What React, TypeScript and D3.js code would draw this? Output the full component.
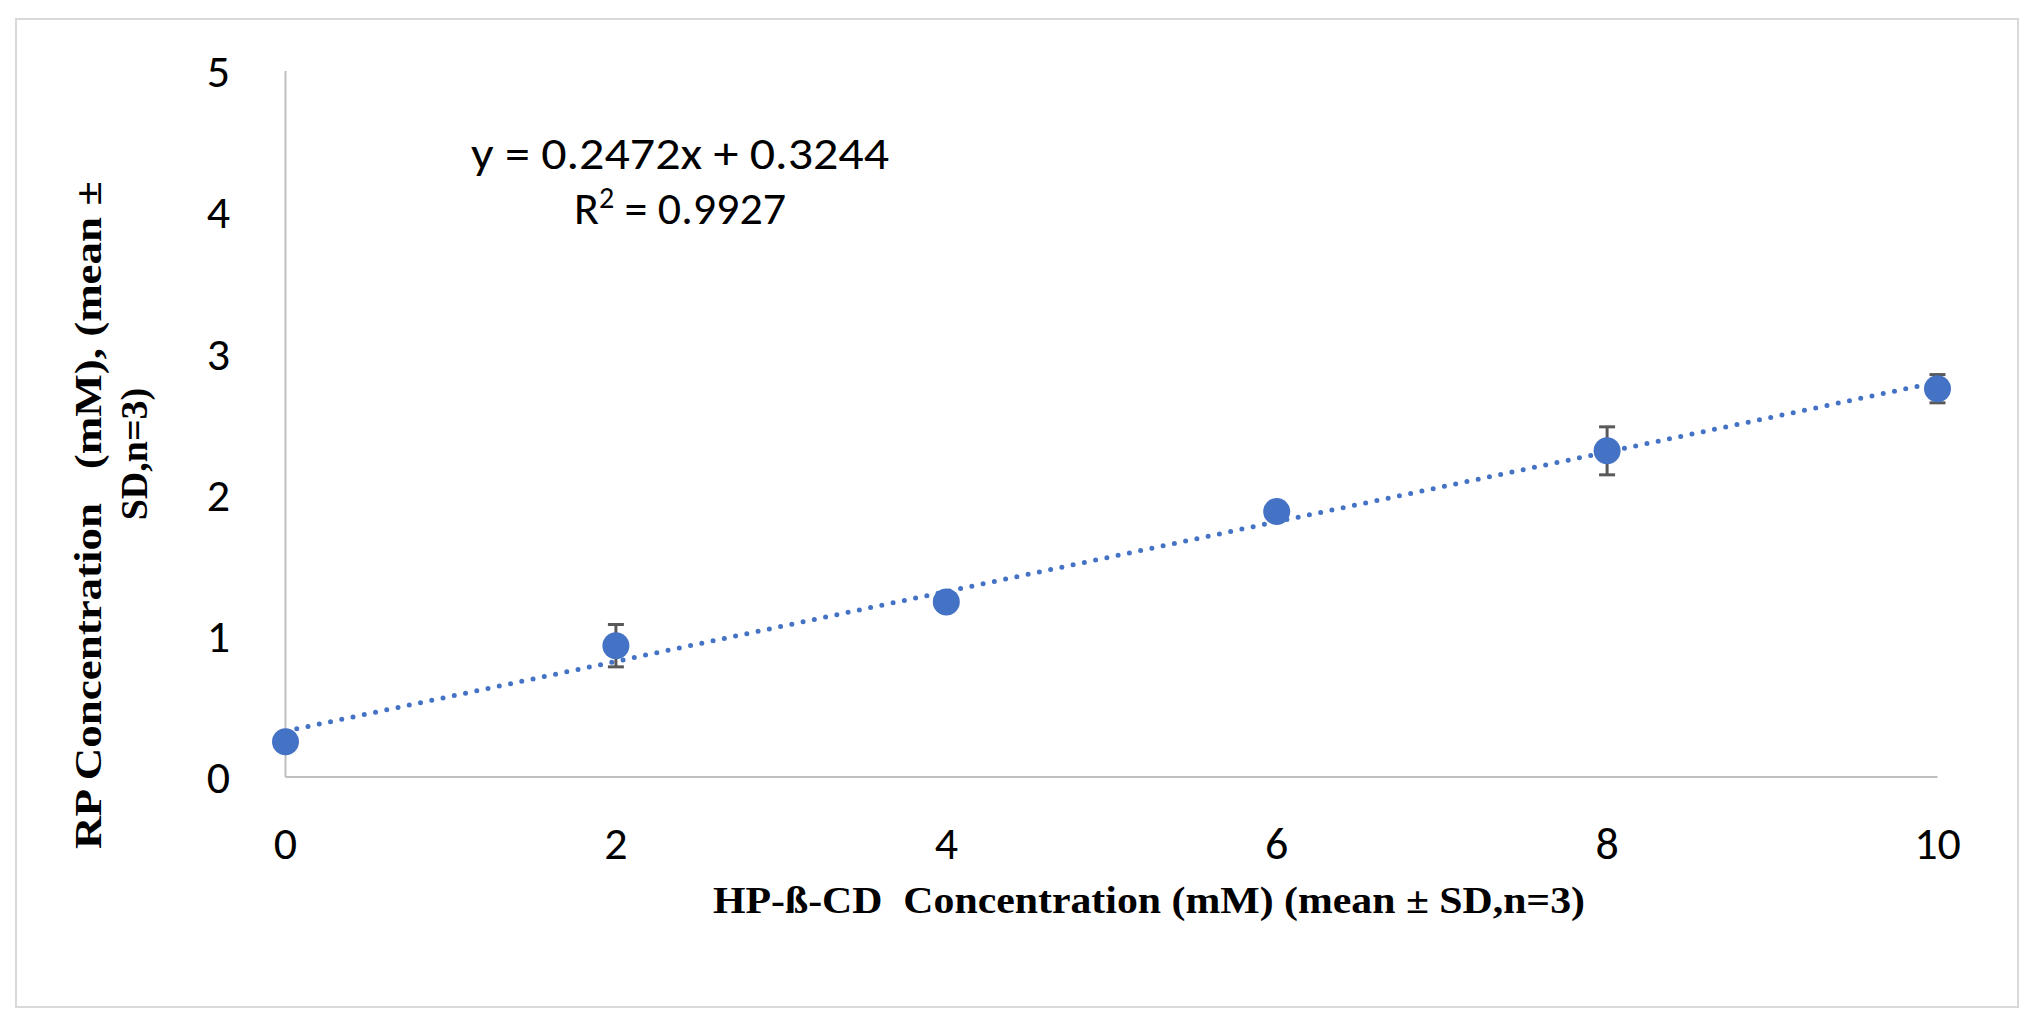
import React from 'react';
import * as d3 from 'd3';

const xValues = [0, 2, 4, 6, 8, 10];
const yValues = [0.25, 0.93, 1.24, 1.88, 2.31, 2.75];
const yErrors = [0.02, 0.15, 0.03, 0.03, 0.17, 0.1];
const xTicks = [0, 2, 4, 6, 8, 10];
const yTicks = [0, 1, 2, 3, 4, 5];
const slope = 0.2472;
const intercept = 0.3244;

const W = 2035;
const H = 1019;
const blue = '#4472C4';

export default function App() {
  const x = d3.scaleLinear().domain([0, 10]).range([285.5, 1937.5]);
  const y = d3.scaleLinear().domain([0, 5]).range([777, 71]);
  const trend = d3.line<number>().x(d => x(d)).y(d => y(slope * d + intercept));
  const calibri = 'Carlito, Calibri, "Open Sans", sans-serif';
  const serif = '"Liberation Serif", "DejaVu Serif", serif';

  return (
    <svg width={W} height={H} style={{ position: 'absolute', left: 0, top: 0 }}>
      <rect x={0} y={0} width={W} height={H} fill="#fff" />
      <rect x={16} y={19} width={2002} height={988} fill="none" stroke="#d9d9d9" strokeWidth={2} />
      <line x1={x(0)} x2={x(0)} y1={y(5)} y2={y(0)} stroke="#bfbfbf" strokeWidth={2} />
      <line x1={x(0)} x2={x(10)} y1={y(0)} y2={y(0)} stroke="#bfbfbf" strokeWidth={2} />

      {yTicks.map(t => (
        <text key={t} x={230} y={y(t)} dy="0.35em" textAnchor="end" fontFamily={calibri} fontSize={46}>{t}</text>
      ))}
      {xTicks.map(t => (
        <text key={t} x={x(t)} y={843} dy="0.35em" textAnchor="middle" fontFamily={calibri} fontSize={46}>{t}</text>
      ))}

      <path d={trend([0, 10]) ?? ''} fill="none" stroke={blue} strokeWidth={5} strokeDasharray="0 11.5" strokeLinecap="round" />

      {xValues.map((xv, i) => (
        <g key={xv} stroke="#595959" strokeWidth={3}>
          <line x1={x(xv)} x2={x(xv)} y1={y(yValues[i] - yErrors[i])} y2={y(yValues[i] + yErrors[i])} />
          <line x1={x(xv) - 8} x2={x(xv) + 8} y1={y(yValues[i] - yErrors[i])} y2={y(yValues[i] - yErrors[i])} />
          <line x1={x(xv) - 8} x2={x(xv) + 8} y1={y(yValues[i] + yErrors[i])} y2={y(yValues[i] + yErrors[i])} />
        </g>
      ))}
      {xValues.map((xv, i) => (
        <circle key={xv} cx={x(xv)} cy={y(yValues[i])} r={13.5} fill={blue} />
      ))}

      <text x={680} y={153} dy="0.35em" textAnchor="middle" fontFamily={calibri} fontSize={46}
        textLength={418} lengthAdjust="spacingAndGlyphs">y = 0.2472x + 0.3244</text>
      <text x={680} y={208} dy="0.35em" textAnchor="middle" fontFamily={calibri} fontSize={46}>
        R<tspan dy="-16" fontSize={30}>2</tspan><tspan dy="16"> = 0.9927</tspan>
      </text>

      <text x={1149} y={900} dy="0.35em" textAnchor="middle" fontFamily={serif} fontWeight="bold" fontSize={38}
        textLength={872} lengthAdjust="spacingAndGlyphs" style={{ whiteSpace: 'pre' }}>
        HP-ß-CD  Concentration (mM) (mean ± SD,n=3)
      </text>
      <text transform="translate(88,515) rotate(-90)" dy="0.35em" textAnchor="middle" fontFamily={serif} fontWeight="bold" fontSize={38}
        textLength={668} lengthAdjust="spacingAndGlyphs" style={{ whiteSpace: 'pre' }}>
        RP Concentration   (mM), (mean ±
      </text>
      <text transform="translate(134,454) rotate(-90)" dy="0.35em" textAnchor="middle" fontFamily={serif} fontWeight="bold" fontSize={38}>
        SD,n=3)
      </text>
    </svg>
  );
}
